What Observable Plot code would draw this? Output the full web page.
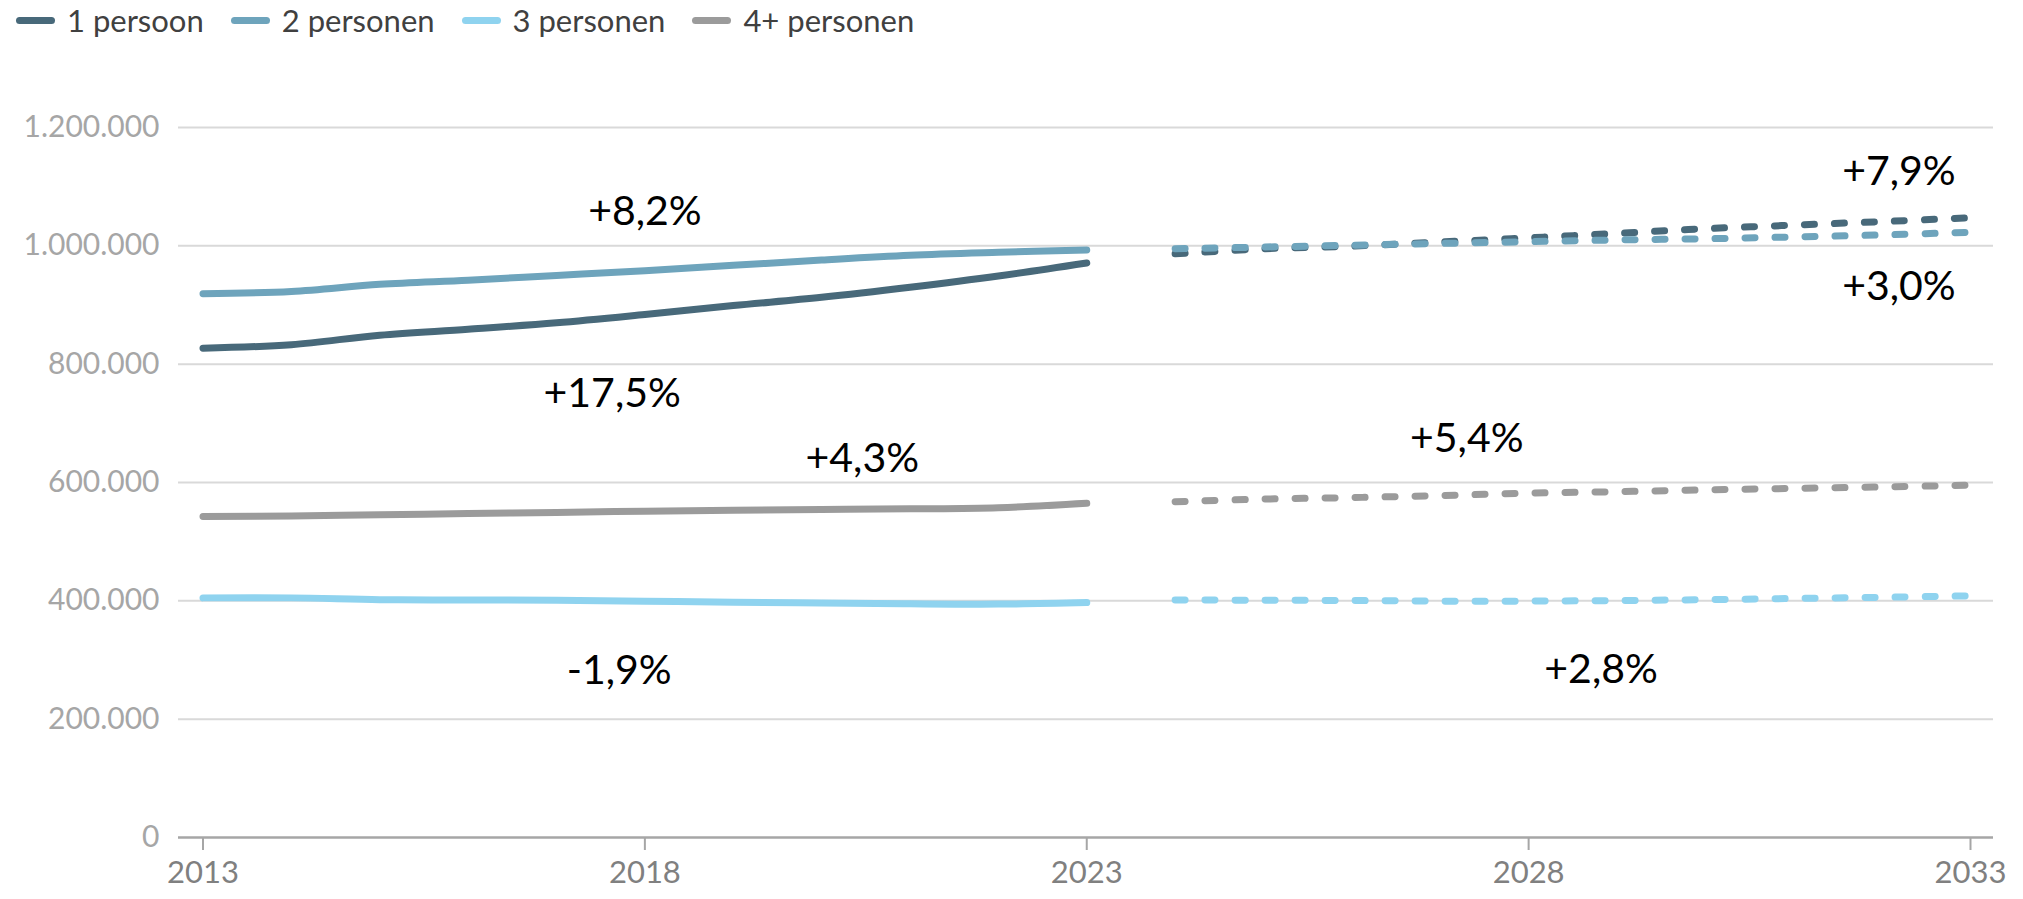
<!DOCTYPE html>
<html>
<head>
<meta charset="utf-8">
<script src="https://cdn.jsdelivr.net/npm/d3@7"></script>
<script src="https://cdn.jsdelivr.net/npm/@observablehq/plot@0.6"></script>
<style>
  html, body { margin: 0; padding: 0; background: #fff; }
  body { width: 2023px; height: 899px; overflow: hidden; font-family: Lato, "Open Sans", sans-serif; }
  #legend { display: flex; align-items: center; height: 40px; padding: 0 0 4px 16px; }
  .item { display: flex; align-items: center; margin-right: 27px; }
  .sw { width: 39px; height: 7px; border-radius: 4px; margin-right: 12px; }
  .lb { font-size: 31px; color: #404040; line-height: 40px; }
  svg [aria-label="y-axis tick label"] text { font-size: 30px; }
  svg [aria-label="x-axis tick label"] text { font-size: 31px; }
</style>
</head>
<body>
<div id="legend"></div>
<div id="chart"></div>
<script>
// ---- data ----
const seriesNames = ["1 persoon", "2 personen", "3 personen", "4+ personen"];
const seriesColors = ["#48697a", "#6ea4bc", "#8fd3ef", "#9b9b9b"];

const histYears = [2013, 2014, 2015, 2016, 2017, 2018, 2019, 2020, 2021, 2022, 2023];
const p1Hist = [827000, 833000, 849000, 859000, 870000, 884000, 899000, 913000, 930000, 949000, 971000];
const p2Hist = [919000, 923000, 935000, 942000, 950000, 958000, 967000, 976000, 984000, 989000, 993000];
const p3Hist = [405000, 405000, 402000, 401500, 401000, 399500, 397500, 396500, 395000, 394500, 397000];
const p4Hist = [542500, 543500, 545500, 547500, 549500, 551500, 553000, 554500, 555500, 557500, 565000];

const fcYears = [2024, 2025, 2026, 2027, 2028, 2029, 2030, 2031, 2032, 2033];
const p1Fc = [986500, 995000, 999500, 1006500, 1013500, 1021000, 1029000, 1035000, 1041000, 1047500];
const p2Fc = [995000, 998000, 1001000, 1004000, 1007000, 1010000, 1012000, 1015000, 1018500, 1023000];
const p3Fc = [401500, 401000, 400500, 399500, 399500, 400500, 402000, 404000, 406000, 408500];
const p4Fc = [567500, 572000, 574500, 578000, 582000, 584500, 587500, 590000, 592500, 595500];

const yTicks = [0, 200000, 400000, 600000, 800000, 1000000, 1200000];
const xTicks = [2013, 2018, 2023, 2028, 2033];

const annotLabels = ["+8,2%", "+17,5%", "+4,3%", "-1,9%", "+7,9%", "+3,0%", "+5,4%", "+2,8%"];
const annotYears  = [2018.0, 2017.63, 2020.46, 2017.71, 2032.19, 2032.19, 2027.30, 2028.82];
const annotValues = [1058000, 750000, 640500, 282000, 1124500, 930000, 673000, 283000];

// ---- tables ----
function table(years, arrays) {
  const out = [];
  arrays.forEach((vals, i) => vals.forEach((v, j) => out.push({series: seriesNames[i], year: years[j], value: v})));
  return out;
}
const hist = table(histYears, [p1Hist, p2Hist, p3Hist, p4Hist]);
const fc = table(fcYears, [p1Fc, p2Fc, p3Fc, p4Fc]);
const annots = annotLabels.map((t, i) => ({text: t, year: annotYears[i], value: annotValues[i]}));

// ---- legend ----
const legend = document.getElementById("legend");
seriesNames.forEach((n, i) => {
  const it = document.createElement("div"); it.className = "item";
  const sw = document.createElement("div"); sw.className = "sw"; sw.style.background = seriesColors[i];
  const lb = document.createElement("span"); lb.className = "lb"; lb.textContent = n;
  it.appendChild(sw); it.appendChild(lb); legend.appendChild(it);
});

const fmt = d => d3.format(",")(d).replace(/,/g, ".");

const chart = Plot.plot({
  width: 2023,
  height: 855,
  marginTop: 83,
  marginBottom: 62,
  marginLeft: 178,
  marginRight: 30,
  style: {fontFamily: "Lato, 'Open Sans', sans-serif", background: "#fff"},
  x: {domain: [2013, 2033], insetLeft: 24.5, insetRight: 23},
  y: {domain: [0, 1200000]},
  color: {domain: seriesNames, range: seriesColors},
  marks: [
    Plot.ruleY(yTicks.filter(d => d > 0), {stroke: "#d9d9d9", strokeWidth: 2}),
    Plot.axisY({ticks: yTicks, tickFormat: fmt, tickSize: 0, tickPadding: 19, fill: "#a6a6a6", fontSize: 30, label: null}),
    Plot.axisX({ticks: xTicks, tickFormat: d => String(d), tickSize: 13, tickPadding: 10, stroke: "#a6a6a6", strokeWidth: 2, strokeOpacity: 1, fill: "#808080", fontSize: 31, label: null}),
    Plot.ruleY([0], {stroke: "#a6a6a6", strokeWidth: 2.5}),
    Plot.line(hist, {x: "year", y: "value", z: "series", stroke: "series", strokeWidth: 7, curve: "catmull-rom", strokeLinecap: "round"}),
    Plot.line(fc, {x: "year", y: "value", z: "series", stroke: "series", strokeWidth: 7, curve: "catmull-rom", strokeLinecap: "round", strokeDasharray: "10,20"}),
    Plot.text(annots, {x: "year", y: "value", text: "text", fontSize: 41, fill: "#000", fontFamily: "Lato, sans-serif"})
  ]
});
document.getElementById("chart").appendChild(chart);
</script>
</body>
</html>
